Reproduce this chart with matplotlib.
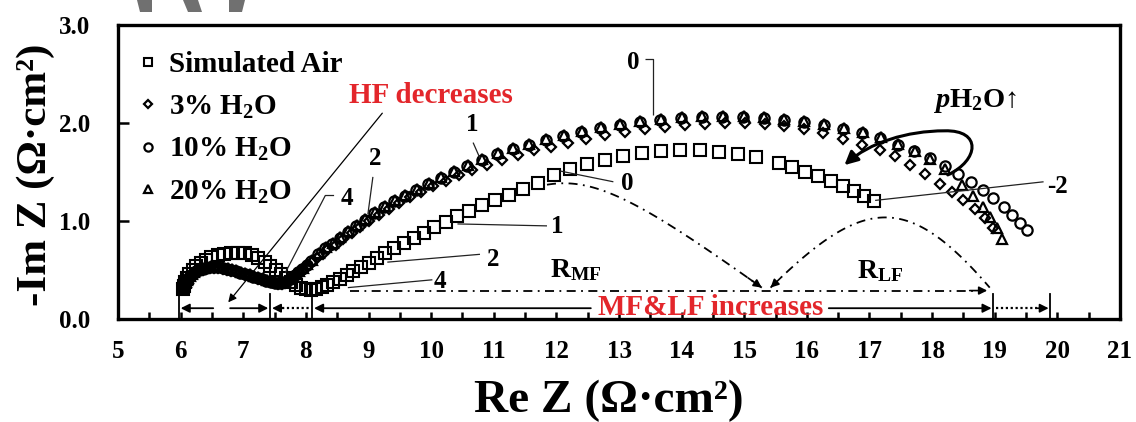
import numpy as np
import matplotlib
matplotlib.use('Agg')
import matplotlib.pyplot as plt
from matplotlib.path import Path
from matplotlib.patches import FancyArrowPatch, Polygon

plt.rcParams['font.family'] = ['Liberation Serif', 'DejaVu Serif']
plt.rcParams['font.weight'] = 'bold'
plt.rcParams['mathtext.fontset'] = 'custom'
plt.rcParams['mathtext.rm'] = 'Liberation Serif:bold'
plt.rcParams['mathtext.it'] = 'Liberation Serif:italic:bold'
plt.rcParams['mathtext.bf'] = 'Liberation Serif:bold'

# ---------------- data ----------------
labels = ['Simulated Air', '3% H$_2$O', '10% H$_2$O', '20% H$_2$O']

air_x = [6.04, 6.05, 6.07, 6.10, 6.14, 6.19, 6.25, 6.32, 6.40, 6.49, 6.59, 6.70, 6.81, 6.92, 7.03,
         7.14, 7.24, 7.34, 7.43, 7.52, 7.60, 7.68, 7.76, 7.84, 7.92, 8.00, 8.08, 8.16, 8.25,
         8.34, 8.44, 8.54, 8.65, 8.76, 8.88, 9.00, 9.13, 9.27, 9.41, 9.56, 9.72, 9.88, 10.05,
         10.23, 10.42, 10.61, 10.81, 11.02, 11.24, 11.47, 11.71, 11.96, 12.22, 12.49, 12.77,
         13.06, 13.36, 13.67, 13.98, 14.29, 14.60, 14.90, 15.19, 15.55, 15.76, 15.97, 16.18,
         16.38, 16.57, 16.75, 16.92, 17.07]
air_y = [0.31, 0.34, 0.38, 0.42, 0.46, 0.50, 0.54, 0.57, 0.60, 0.63, 0.65, 0.66, 0.67, 0.67, 0.67,
         0.65, 0.62, 0.58, 0.54, 0.50, 0.46, 0.42, 0.38, 0.35, 0.32, 0.31, 0.30, 0.31, 0.33,
         0.35, 0.38, 0.41, 0.45, 0.49, 0.53, 0.57, 0.62, 0.67, 0.72, 0.78, 0.83, 0.88, 0.94,
         0.99, 1.05, 1.10, 1.16, 1.21, 1.27, 1.33, 1.39, 1.47, 1.53, 1.58, 1.62,
         1.66, 1.69, 1.71, 1.72, 1.72, 1.70, 1.68, 1.65, 1.59, 1.55, 1.50, 1.46,
         1.41, 1.36, 1.31, 1.26, 1.20]

h3_x = [6.03, 6.04, 6.05, 6.07, 6.09, 6.11, 6.14, 6.17, 6.21, 6.25, 6.30, 6.35, 6.41, 6.47,
        6.53, 6.60, 6.67, 6.74, 6.81, 6.88, 6.95, 7.02, 7.09, 7.16, 7.23, 7.30, 7.37, 7.44,
        7.50, 7.56, 7.62, 7.67, 7.72, 7.78, 7.84, 7.90, 7.96, 8.03, 8.10, 8.18, 8.27,
        8.36, 8.48, 8.60, 8.73, 8.87, 9.01, 9.16, 9.32, 9.49, 9.66, 9.84, 10.03, 10.23, 10.44,
        10.66, 10.89, 11.13, 11.38, 11.64, 11.91, 12.19, 12.48, 12.78, 13.09, 13.41, 13.73,
        14.05, 14.37, 14.69, 15.01, 15.33, 15.64, 15.95, 16.26, 16.58, 16.88, 17.17, 17.41,
        17.65, 17.89, 18.13, 18.32, 18.50, 18.69, 18.84, 18.98]
h3_y = [0.31, 0.33, 0.35, 0.37, 0.39, 0.41, 0.43, 0.45, 0.47, 0.48, 0.49, 0.50, 0.51, 0.52,
        0.52, 0.52, 0.51, 0.50, 0.49, 0.48, 0.47, 0.45, 0.44, 0.43, 0.41, 0.40, 0.39, 0.38,
        0.37, 0.36, 0.36, 0.37, 0.39, 0.41, 0.44, 0.47, 0.50, 0.54, 0.58, 0.62, 0.66,
        0.71, 0.76, 0.82, 0.88, 0.94, 1.00, 1.06, 1.12, 1.18, 1.24, 1.30, 1.36, 1.41, 1.47,
        1.52, 1.57, 1.62, 1.67, 1.72, 1.76, 1.80, 1.84, 1.88, 1.91, 1.94, 1.96,
        1.98, 1.99, 2.00, 2.00, 1.99, 1.97, 1.94, 1.90, 1.84, 1.78, 1.72, 1.66,
        1.57, 1.48, 1.38, 1.30, 1.21, 1.12, 1.03, 0.93]

h10_x = [6.03, 6.04, 6.05, 6.07, 6.09, 6.11, 6.14, 6.17, 6.21, 6.25, 6.30, 6.35, 6.41, 6.47,
         6.53, 6.60, 6.67, 6.74, 6.81, 6.88, 6.95, 7.02, 7.09, 7.16, 7.23, 7.30, 7.37, 7.44,
         7.50, 7.56, 7.61, 7.66, 7.71, 7.76, 7.82, 7.88, 7.94, 8.01, 8.08, 8.20,
         8.31, 8.42, 8.54, 8.67, 8.80, 8.94, 9.09, 9.25, 9.41, 9.58, 9.76, 9.95, 10.15, 10.36,
         10.58, 10.81, 11.05, 11.30, 11.56, 11.83, 12.11, 12.40, 12.70, 13.01, 13.33, 13.66,
         13.99, 14.32, 14.65, 14.98, 15.31, 15.63, 15.95, 16.27, 16.58, 16.88, 17.17, 17.45,
         17.71, 17.96, 18.20, 18.42, 18.62, 18.81, 18.98, 19.14, 19.28, 19.41, 19.52]
h10_y = [0.31, 0.33, 0.35, 0.37, 0.39, 0.41, 0.43, 0.45, 0.47, 0.49, 0.50, 0.51, 0.52, 0.53,
         0.53, 0.53, 0.52, 0.51, 0.50, 0.49, 0.47, 0.46, 0.45, 0.43, 0.42, 0.41, 0.39, 0.38,
         0.37, 0.37, 0.37, 0.38, 0.40, 0.42, 0.45, 0.48, 0.51, 0.55, 0.59, 0.66,
         0.72, 0.77, 0.83, 0.89, 0.95, 1.01, 1.08, 1.14, 1.20, 1.26, 1.32, 1.38, 1.44, 1.50,
         1.56, 1.62, 1.68, 1.73, 1.78, 1.83, 1.87, 1.91, 1.95, 1.98, 2.01, 2.03,
         2.05, 2.06, 2.06, 2.06, 2.05, 2.03, 2.01, 1.98, 1.94, 1.90, 1.85, 1.78,
         1.71, 1.64, 1.56, 1.48, 1.40, 1.32, 1.23, 1.14, 1.06, 0.98, 0.91]

h20_x = [6.04, 6.05, 6.06, 6.08, 6.10, 6.12, 6.15, 6.18, 6.22, 6.26, 6.31, 6.36, 6.42, 6.48,
         6.54, 6.61, 6.68, 6.75, 6.82, 6.89, 6.96, 7.03, 7.10, 7.17, 7.24, 7.31, 7.38, 7.45,
         7.51, 7.57, 7.62, 7.67, 7.72, 7.77, 7.83, 7.89, 7.95, 8.02, 8.09, 8.21,
         8.32, 8.43, 8.55, 8.68, 8.81, 8.95, 9.10, 9.26, 9.42, 9.59, 9.77, 9.96, 10.16, 10.37,
         10.59, 10.82, 11.06, 11.31, 11.57, 11.84, 12.12, 12.41, 12.71, 13.02, 13.34, 13.67,
         14.00, 14.33, 14.66, 14.99, 15.32, 15.64, 15.96, 16.28, 16.59, 16.89, 17.18, 17.46,
         17.72, 17.97, 18.21, 18.48, 18.66, 18.82, 18.93, 19.04, 19.12]
h20_y = [0.32, 0.34, 0.36, 0.38, 0.40, 0.42, 0.44, 0.46, 0.48, 0.50, 0.51, 0.52, 0.53, 0.54,
         0.54, 0.54, 0.53, 0.52, 0.51, 0.50, 0.48, 0.47, 0.46, 0.44, 0.43, 0.42, 0.40, 0.39,
         0.38, 0.38, 0.38, 0.39, 0.41, 0.43, 0.46, 0.49, 0.52, 0.56, 0.60, 0.67,
         0.73, 0.78, 0.84, 0.90, 0.96, 1.02, 1.09, 1.15, 1.21, 1.27, 1.33, 1.39, 1.45, 1.51,
         1.57, 1.63, 1.69, 1.74, 1.79, 1.84, 1.88, 1.92, 1.96, 1.99, 2.02, 2.04,
         2.06, 2.07, 2.07, 2.07, 2.06, 2.04, 2.02, 1.99, 1.95, 1.91, 1.86, 1.79,
         1.71, 1.63, 1.53, 1.37, 1.26, 1.14, 1.04, 0.93, 0.82]

x_ticks = list(range(5, 22))
y_ticks = [0.0, 1.0, 2.0, 3.0]
y_tick_labels = ['0.0', '1.0', '2.0', '3.0']

# ---------------- figure ----------------
fig = plt.figure(figsize=(11.36, 4.22), dpi=100)
ax = fig.add_axes([0.1039, 0.2441, 0.882, 0.6967])

mk = dict(ls='none', mfc='none', mec='black')
h_air, = ax.plot(air_x, air_y, marker='s', ms=8.0, mew=1.5, label=labels[0], **mk)
h_3, = ax.plot(h3_x, h3_y, marker='D', ms=4.8, mew=1.6, label=labels[1], **mk)
h_10, = ax.plot(h10_x, h10_y, marker='o', ms=7.4, mew=1.6, label=labels[2], **mk)
h_20, = ax.plot(h20_x, h20_y, marker='^', ms=7.2, mew=1.6, label=labels[3], **mk)

ax.set_xlim(5, 21)
ax.set_ylim(0, 3)
ax.set_xticks(x_ticks)
ax.set_xticks(np.arange(5.5, 21, 1.0), minor=True)
ax.set_yticks(y_ticks)
ax.set_yticklabels(y_tick_labels)
ax.tick_params(axis='x', which='both', direction='in', length=5, width=1.8,
               labelsize=18, pad=15)
ax.tick_params(axis='y', which='both', direction='in', length=8, width=1.8,
               labelsize=18, pad=20)
for s in ax.spines.values():
    s.set_linewidth(2.4)

ax.set_xlabel('Re Z (Ω·cm²)', fontsize=34, fontweight='bold')
ax.xaxis.set_label_coords(0.49, -0.205)
ax.xaxis.label.set_va('top')
ax.set_ylabel('-Im Z (Ω·cm²)', fontsize=31, fontweight='bold')
ax.yaxis.set_label_coords(-0.063, 0.49)

leg = ax.legend(handles=[h_air, h_3, h_10, h_20], loc='upper left',
                bbox_to_anchor=(0.0215, 0.91), frameon=False,
                prop={'family': 'Liberation Serif', 'weight': 'bold', 'size': 21},
                handlelength=0.6, handletextpad=0.4, labelspacing=0.52,
                borderpad=0, borderaxespad=0, markerscale=0.8)

# ---------------- annotations ----------------
LC = '#222222'

def leader(pts, lw=0.9):
    xs = [p[0] for p in pts]
    ys = [p[1] for p in pts]
    ax.plot(xs, ys, color=LC, lw=lw, solid_capstyle='butt')

def head(xy, frm, ms=13, lw=1.2):
    ax.annotate('', xy=xy, xytext=frm,
                arrowprops=dict(arrowstyle='-|>', color='black', lw=lw,
                                mutation_scale=ms, shrinkA=0, shrinkB=0))

num_fs = 18
# humidified labels
ax.text(13.23, 2.62, '0', fontsize=num_fs, ha='center', va='center')
leader([(13.42, 2.65), (13.55, 2.65), (13.55, 2.08)])
ax.text(10.65, 1.98, '1', fontsize=num_fs, ha='center', va='center')
leader([(10.67, 1.80), (10.78, 1.64)])
ax.text(9.11, 1.64, '2', fontsize=num_fs, ha='center', va='center')
leader([(9.07, 1.45), (8.99, 1.07)])
ax.text(8.66, 1.23, '4', fontsize=num_fs, ha='center', va='center')
leader([(8.45, 1.26), (8.31, 1.26), (7.67, 0.47)])
# air labels
ax.text(13.13, 1.38, '0', fontsize=num_fs, ha='center', va='center')
leader([(12.06, 1.51), (12.91, 1.40)])
ax.text(12.01, 0.94, '1', fontsize=num_fs, ha='center', va='center')
leader([(10.42, 0.97), (11.85, 0.95)])
ax.text(10.99, 0.61, '2', fontsize=num_fs, ha='center', va='center')
leader([(9.30, 0.58), (10.78, 0.66)])
ax.text(10.14, 0.38, '4', fontsize=num_fs, ha='center', va='center')
leader([(8.67, 0.32), (10.02, 0.40)])
ax.text(20.0, 1.35, '-2', fontsize=num_fs, ha='center', va='center')
leader([(17.09, 1.21), (19.78, 1.40)])

# HF decreases
RED = '#e3262b'
ax.text(10.0, 2.28, 'HF decreases', color=RED, fontsize=21, ha='center', va='center')
ax.annotate('', xy=(6.76, 0.17), xytext=(9.22, 2.10),
            arrowprops=dict(arrowstyle='-|>', color='black', lw=0.9,
                            mutation_scale=12, shrinkA=0, shrinkB=0))

# pH2O arrow
ax.text(18.68, 2.22, '$p$H$_2$O↑', fontsize=20.5, ha='center', va='center')
verts = [(18.25, 1.47), (18.75, 1.62), (18.8, 1.93), (18.2, 1.92),
         (17.6, 1.92), (17.0, 1.80), (16.6, 1.57)]
codes = [Path.MOVETO, Path.CURVE4, Path.CURVE4, Path.CURVE4,
         Path.CURVE4, Path.CURVE4, Path.CURVE4]
arr = FancyArrowPatch(path=Path(verts, codes), arrowstyle='-|>', mutation_scale=20,
                      lw=2.2, color='black')
ax.add_patch(arr)

# dash-dot arcs
dd = (0, (5, 3, 1, 3))

def bez(P, n=80):
    t = np.linspace(0, 1, n)[:, None]
    P = np.array(P)
    return ((1 - t) ** 3) * P[0] + 3 * ((1 - t) ** 2) * t * P[1] + 3 * (1 - t) * t ** 2 * P[2] + t ** 3 * P[3]

a1 = bez([(11.85, 1.37), (12.6, 1.45), (13.3, 1.22), (15.28, 0.32)])
ax.plot(a1[:, 0], a1[:, 1], color='black', lw=1.3, ls=dd)
head((a1[-1, 0], a1[-1, 1]), (a1[-4, 0], a1[-4, 1]), ms=12)
a2 = bez([(15.42, 0.32), (16.9, 1.25), (17.6, 1.30), (18.92, 0.32)])
ax.plot(a2[:, 0], a2[:, 1], color='black', lw=1.3, ls=dd)
head((a2[0, 0], a2[0, 1]), (a2[3, 0], a2[3, 1]), ms=12)

# horizontal dash-dot
ax.plot([8.7, 18.8], [0.29, 0.29], color='black', lw=1.3, ls=dd)
head((18.88, 0.29), (18.6, 0.29), ms=12)

ax.text(11.9, 0.43, 'R$_{\\mathrm{MF}}$', fontsize=20, ha='left', va='baseline')
ax.text(16.8, 0.42, 'R$_{\\mathrm{LF}}$', fontsize=20, ha='left', va='baseline')

# bottom arrows
yb = 0.11
for xv in [5.97, 7.43, 8.10, 18.98, 19.89]:
    ax.plot([xv, xv], [0.0, 0.26], color='black', lw=1.3)
ax.annotate('', xy=(6.0, yb), xytext=(6.52, yb),
            arrowprops=dict(arrowstyle='-|>', color='black', lw=1.3, mutation_scale=13, shrinkA=0, shrinkB=0))
ax.annotate('', xy=(7.40, yb), xytext=(6.79, yb),
            arrowprops=dict(arrowstyle='-|>', color='black', lw=1.3, mutation_scale=13, shrinkA=0, shrinkB=0))
ax.plot([7.62, 8.07], [yb, yb], color='black', lw=1.6, ls=(0, (1, 1.2)))
head((7.46, yb), (7.64, yb), ms=13)
ax.annotate('', xy=(8.13, yb), xytext=(12.55, yb),
            arrowprops=dict(arrowstyle='-|>', color='black', lw=1.3, mutation_scale=13, shrinkA=0, shrinkB=0))
ax.annotate('', xy=(18.95, yb), xytext=(16.35, yb),
            arrowprops=dict(arrowstyle='-|>', color='black', lw=1.3, mutation_scale=13, shrinkA=0, shrinkB=0))
ax.plot([19.02, 19.68], [yb, yb], color='black', lw=1.6, ls=(0, (1, 1.2)))
head((19.86, yb), (19.66, yb), ms=13)
ax.text(14.46, 0.12, 'MF&LF increases', color=RED, fontsize=21, ha='center', va='center')

# gray fragments at the top edge
W, H = 1136.0, 422.0
for poly in [[(137, 0), (152, 0), (152, 12), (140, 12)],
             [(183, 0), (198, 0), (202, 12), (188, 12)],
             [(229, 0), (245, 0), (242, 12), (229, 12)]]:
    pts = [(px / W, 1 - py / H) for px, py in poly]
    fig.patches.append(Polygon(pts, closed=True, transform=fig.transFigure,
                               facecolor='#707070', edgecolor='none'))

fig.savefig('out.png', dpi=100)
